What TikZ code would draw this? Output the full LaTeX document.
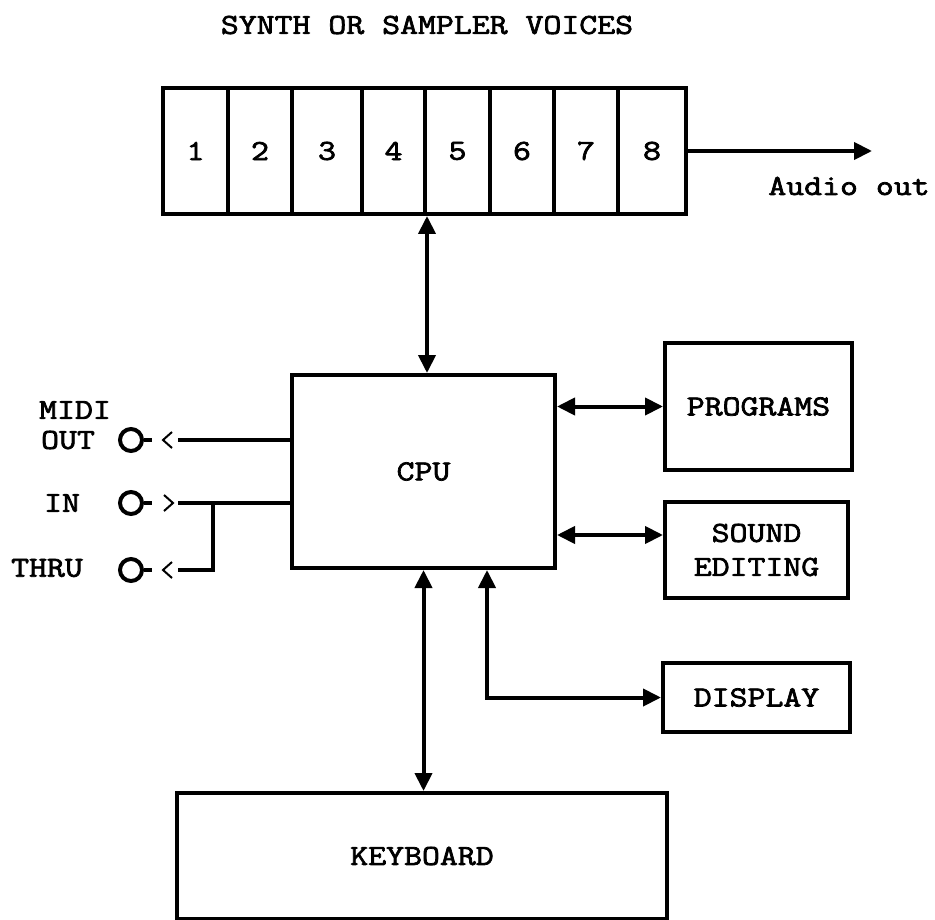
\documentclass[tikz,border=0pt]{standalone}
\usepackage{fontspec}
\newfontfamily\diafont{Latin Modern Mono}[FakeBold=2.5,FakeStretch=1.2]
\usetikzlibrary{arrows.meta,positioning}

\begin{document}
\begin{tikzpicture}[x=0.5pt,y=-0.5pt,
  lbl/.style={font=\fontsize{14.5}{17}\selectfont\diafont},
  blk/.style={draw,line width=2pt,lbl,align=center,inner sep=0pt},
  wire/.style={line width=2pt},
  link/.style={wire,{Triangle[length=9pt,width=8.5pt]}-{Triangle[length=9pt,width=8.5pt]}},
  jack/.style={draw,circle,line width=2pt,minimum size=11pt,inner sep=0pt},
  chev/.style={line width=1pt}]
\useasboundingbox (0,0) rectangle (935,919);

% Voices
\node[lbl] (title) at (427,25) {SYNTH OR SAMPLER VOICES};
\foreach \n/\l/\r in {1/163/228,2/228/292,3/292/362,4/362/425,5/425/490,6/490/554,7/554/618,8/618/686}
  \node[blk,minimum width={(\r-\l)*0.5pt},minimum height=63pt] (v\n) at ({(\l+\r)/2},151) {\n};

% Audio out
\coordinate (aout) at (872,151);
\draw[wire,-{Triangle[length=9pt,width=8.5pt]}] (v8.east) -- (aout);
\node[lbl] (audio) at (849,186) {Audio out};

% Blocks
\node[blk,minimum width=131.5pt,minimum height=96.5pt] (cpu) at (423.5,471.5) {CPU};
\node[blk,minimum width=93.5pt,minimum height=63.5pt] (prog) at (758.5,406.5) {PROGRAMS};
\node[blk,minimum width=91.5pt,minimum height=48pt] (snd) at (756.5,550) {SOUND\\EDITING};
\node[blk,minimum width=93.5pt,minimum height=34.5pt] (disp) at (756.5,697.5) {DISPLAY};
\node[blk,minimum width=245pt,minimum height=63pt] (kbd) at (422,856) {KEYBOARD};

% Links
\draw[link] (v4.south east) -- (v4.south east |- cpu.north);
\draw[link] (cpu.east |- prog) -- (prog.west);
\draw[link] (cpu.east |- 0,535) -- (snd.west |- 0,535);
\draw[link] (cpu.south) -- (cpu.south |- kbd.north);
\draw[link] (cpu.south -| 487,0) |- (disp.west);

% MIDI sockets
\node[lbl] (lmidi) at (75,410) {MIDI};
\node[lbl] (lout) at (68,440) {OUT};
\node[lbl] (lin) at (62,503) {IN};
\node[lbl] (lthru) at (47,568) {THRU};
\node[jack] (jout) at (131,440) {};
\node[jack] (jin) at (131,503) {};
\node[jack] (jthru) at (131,570) {};
\foreach \j in {jout,jin,jthru}
  \draw[wire] (\j.east) -- ([xshift=10.5pt]\j.center);
\draw[chev] ([shift={(41,-8)}]jout.center) -- ([shift={(32,0)}]jout.center) -- ([shift={(41,8)}]jout.center);
\draw[chev] ([shift={(33,-8)}]jin.center) -- ([shift={(42,0)}]jin.center) -- ([shift={(33,8)}]jin.center);
\draw[chev] ([shift={(41,-8)}]jthru.center) -- ([shift={(32,0)}]jthru.center) -- ([shift={(41,8)}]jthru.center);
\coordinate (tap) at (213,503);
\draw[wire] (cpu.west |- jout) -- ([xshift=23.5pt]jout.center);
\draw[wire] (cpu.west |- jin) -- ([xshift=23.5pt]jin.center);
\draw[wire] (tap) |- ([xshift=23.5pt]jthru.center);
\end{tikzpicture}
\end{document}
